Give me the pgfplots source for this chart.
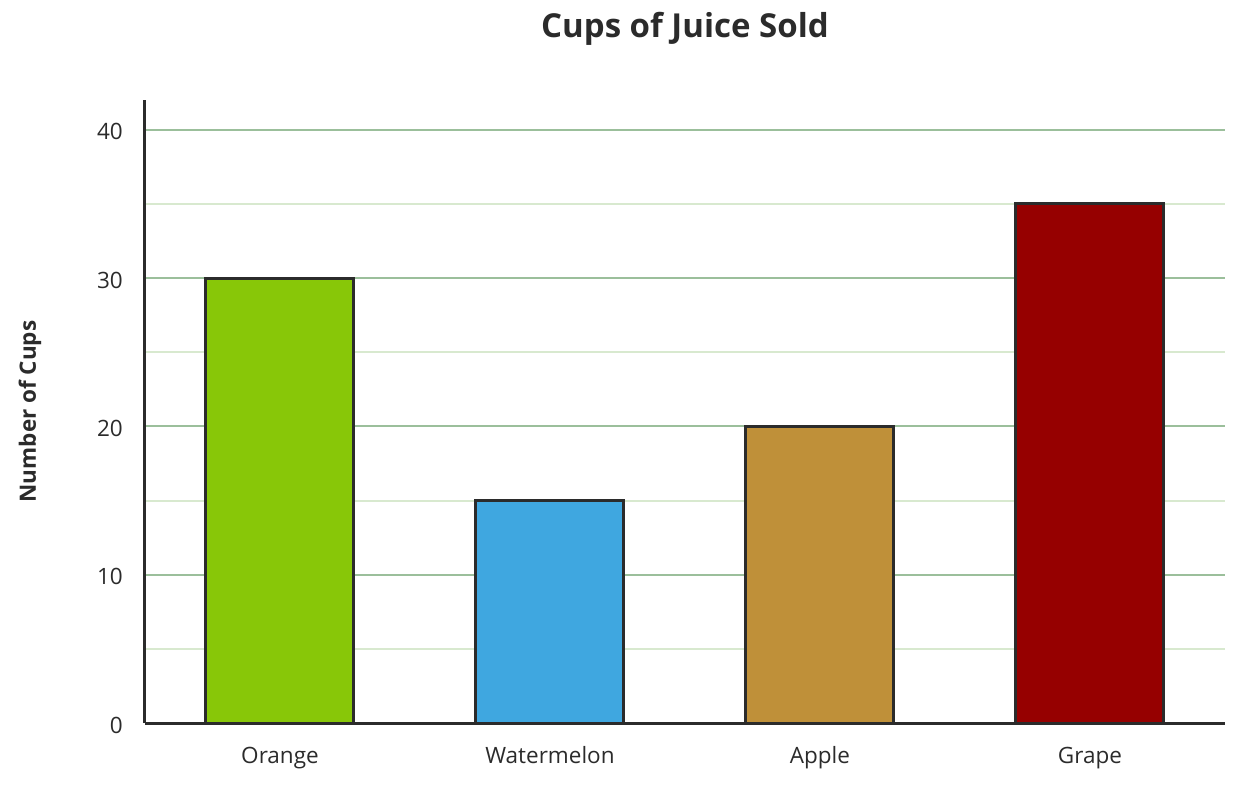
\documentclass[border=0pt]{standalone}
\usepackage{pgfplots}
\pgfplotsset{compat=1.18}
\usepackage{fontspec}
\setmainfont{Open Sans}
\definecolor{txt}{HTML}{2B2B2B}
\definecolor{majgrid}{HTML}{9BBF9B}
\definecolor{mingrid}{HTML}{D8E9CF}
\definecolor{corange}{HTML}{88C708}
\definecolor{cwater}{HTML}{3FA7E0}
\definecolor{capple}{HTML}{BF9039}
\definecolor{cgrape}{HTML}{960000}
\begin{document}
\begin{tikzpicture}
\begin{axis}[
  scale only axis, width=1080pt, height=623pt,
  xmin=-0.5, xmax=3.5, ymin=0, ymax=42,
  axis lines*=left,
  axis line style={line width=3pt, color=txt},
  xtick={0,1,2,3}, xticklabels={Orange,Watermelon,Apple,Grape},
  ytick={0,10,20,30,40}, minor ytick={5,15,25,35},
  ymajorgrids, yminorgrids,
  major grid style={line width=2pt, color=majgrid},
  minor grid style={line width=2pt, color=mingrid},
  major tick length=0pt, minor tick length=0pt,
  tick style={draw=none},
  /pgf/number format/assume math mode=true,
  tick label style={font=\fontsize{22.5}{27}\selectfont, text=txt, inner sep=0pt},
  yticklabel style={anchor=east, xshift=-22pt, yshift=-2pt},
  xticklabel style={anchor=base, yshift=-40pt},
  title={Cups of Juice Sold},
  title style={font=\fontsize{33}{38}\selectfont\bfseries, text=txt, at={(0.5,1)}, anchor=base, yshift=57pt, inner sep=0pt},
  ylabel={Number of Cups},
  ylabel style={font=\fontsize{22.5}{27}\selectfont\bfseries, text=txt, at={(rel axis cs:-0.1065,0.5)}, anchor=center, inner sep=0pt},
]
\addplot[ybar, bar shift=0pt, bar width=148pt, fill=corange, draw=txt, line width=3pt] coordinates {(0,30)};
\addplot[ybar, bar shift=0pt, bar width=148pt, fill=cwater, draw=txt, line width=3pt] coordinates {(1,15)};
\addplot[ybar, bar shift=0pt, bar width=148pt, fill=capple, draw=txt, line width=3pt] coordinates {(2,20)};
\addplot[ybar, bar shift=0pt, bar width=148pt, fill=cgrape, draw=txt, line width=3pt] coordinates {(3,35)};
\end{axis}
\pgfresetboundingbox
\path[use as bounding box] ([xshift=-145pt,yshift=-65pt]current axis.south west) rectangle ([xshift=1097pt,yshift=723pt]current axis.south west);
\end{tikzpicture}
\end{document}
